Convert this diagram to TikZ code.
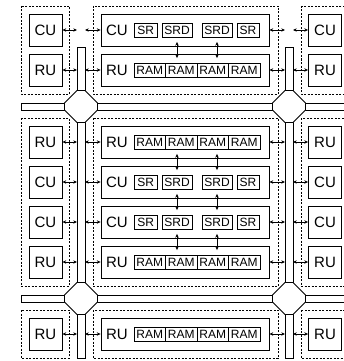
\documentclass[tikz,border=0pt]{standalone}
\usepackage{fontspec}
\setmainfont{Liberation Sans}
\usetikzlibrary{arrows.meta,calc}
\begin{document}
\begin{tikzpicture}[x=1pt,y=-1pt,
  unit/.style={draw, line width=0.8pt, inner sep=0pt, minimum width=33pt, minimum height=32pt, font=\fontsize{15}{15}\selectfont},
  wide/.style={draw, line width=0.8pt, inner sep=0pt, minimum width=168pt, minimum height=32pt},
  lbl/.style={inner sep=0pt, font=\fontsize{15}{15}\selectfont},
  small/.style={draw, line width=0.6pt, inner sep=0pt, minimum height=14pt, font=\fontsize{12}{12}\selectfont},
  grp/.style={draw, line width=0.7pt, dash pattern=on 2pt off 1.5pt},
  bus/.style={draw, fill=white, line width=0.8pt},
  arr/.style={{Stealth[length=3.8pt,width=3.4pt]}-{Stealth[length=3.8pt,width=3.4pt]}, line width=0.7pt}
]
\useasboundingbox (0,0) rectangle (344,361);
\clip (0,0) rectangle (344,361);
% groups
\foreach \ya/\yb in {6/94,118/286,310/358}{
  \draw[grp] (21,\ya) rectangle (69,\yb);
  \draw[grp] (93,\ya) rectangle (278,\yb);
  \draw[grp] (301,\ya) rectangle (352,\yb);
}
% horizontal buses
\foreach \cy in {106.5,298.5}{
  \draw[bus] (21,\cy-3.5) rectangle (64.5,\cy+3.5);
  \draw[bus] (97.5,\cy-3.5) rectangle (272.5,\cy+3.5);
  \draw[bus] (305.5,\cy-3.5) rectangle (352,\cy+3.5);
}
% vertical stems
\foreach \cx in {81,289}{
  \draw[bus] (\cx-4,47) rectangle (\cx+4,90.5);
  \draw[bus] (\cx-4,122.5) rectangle (\cx+4,282.5);
  \draw[bus] (\cx-4,314.5) rectangle (\cx+4,358);
}
% crossings
\foreach \cx in {81,289}{
  \foreach \cy in {106.5,298.5}{
    \draw[bus] (\cx-4,\cy-16) -- (\cx+4,\cy-16) -- (\cx+16.5,\cy-3.5) -- (\cx+16.5,\cy+3.5)
      -- (\cx+4,\cy+16) -- (\cx-4,\cy+16) -- (\cx-16.5,\cy+3.5) -- (\cx-16.5,\cy-3.5) -- cycle;
  }
}
\coordinate (sLa) at (77,0);
\coordinate (sLb) at (85,0);
\coordinate (sRa) at (285,0);
\coordinate (sRb) at (293,0);
\coordinate (X1) at (177,0);
\coordinate (X2) at (217,0);
% rows
\foreach \y/\t/\n in {30/CU/1,70/RU/2,142/RU/3,182/CU/4,222/CU/5,262/RU/6,334/RU/7}{
  \node[unit] (L\n) at (45.5,\y) {\t};
  \node[unit] (R\n) at (325,\y) {\t};
  \node[wide] (M\n) at (185,\y) {};
  \node[lbl] (T\n) at (117,\y) {\t};
  \draw[arr] (L\n.east) -- (L\n.east -| sLa);
  \draw[arr] (M\n.west -| sLb) -- (M\n.west);
  \draw[arr] (M\n.east) -- (M\n.east -| sRa);
  \draw[arr] (R\n.west -| sRb) -- (R\n.west);
}
\foreach \y/\n in {30/1,182/4,222/5}{
  \node[small, minimum width=23.5pt] (a\n) at (145.75,\y) {SR};
  \node[small, minimum width=30pt] (b\n) at (177,\y) {SRD};
  \node[small, minimum width=30pt] (c\n) at (217,\y) {SRD};
  \node[small, minimum width=22pt] (d\n) at (248,\y) {SR};
}
\foreach \y/\n in {70/2,142/3,262/6,334/7}{
  \node[small, minimum width=31.5pt] (a\n) at (149.75,\y) {RAM};
  \node[small, minimum width=31.5pt] (b\n) at (181.25,\y) {RAM};
  \node[small, minimum width=31.5pt] (c\n) at (212.75,\y) {RAM};
  \node[small, minimum width=31.5pt] (d\n) at (244.25,\y) {RAM};
}
% vertical links
\foreach \p/\q in {1/2,3/4,4/5,5/6}{
  \foreach \X in {X1,X2}{
    \draw[arr] ($(M\p.south -| \X)+(0,-4.5)$) -- ($(M\q.north -| \X)+(0,4.5)$);
  }
}
\end{tikzpicture}
\end{document}
